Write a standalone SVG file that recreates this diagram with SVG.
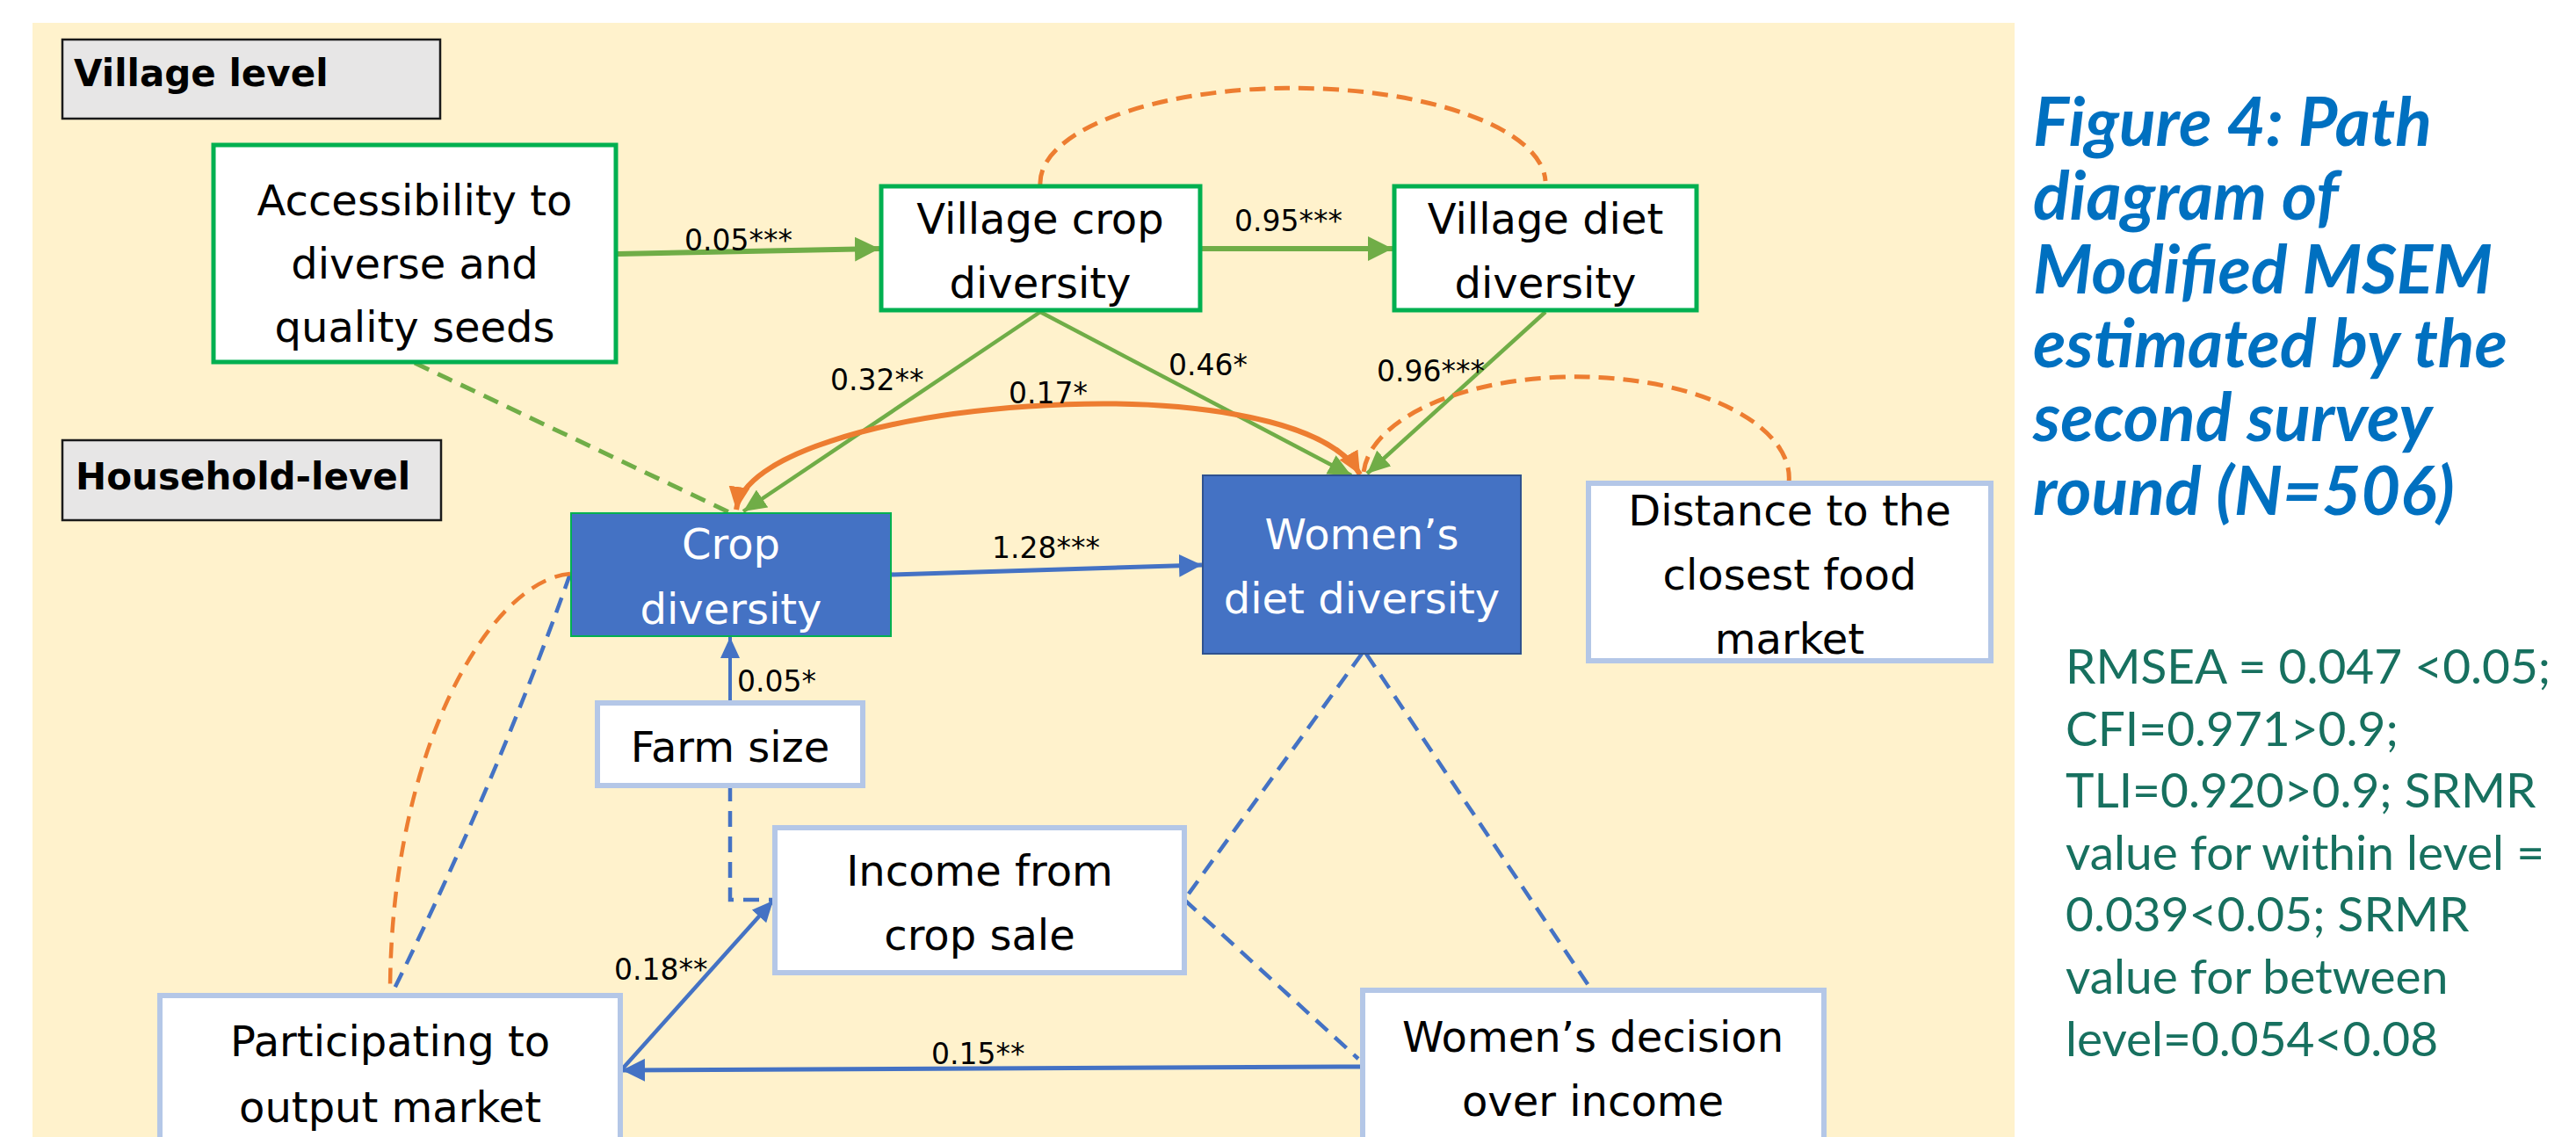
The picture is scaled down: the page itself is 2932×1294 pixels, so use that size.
<svg xmlns="http://www.w3.org/2000/svg" width="2932" height="1294" viewBox="0 0 2932 1294">
<style>
.bg{fill:#fff2cc}
.lvl{fill:#e7e6e6;stroke:#1a1a1a;stroke-width:2.5}
.lvlt{font-family:"DejaVu Sans",Verdana,sans-serif;font-weight:bold;font-size:42px;fill:#000}
.vbox{fill:#fff;stroke:#00b050;stroke-width:5}
.hbox{fill:#fff;stroke:#b4c7e7;stroke-width:6}
.nt{font-family:"DejaVu Sans",Verdana,sans-serif;font-size:48px;fill:#000;text-anchor:middle}
.nw{fill:#fff}
.lab{font-family:"DejaVu Sans",Verdana,sans-serif;font-size:33px;fill:#000}
.g{fill:none;stroke:#70ad47}
.b{fill:none;stroke:#4472c4}
.o{fill:none;stroke:#ed7d31}
.cap{font-family:Lato,"Open Sans",sans-serif;font-weight:bold;font-style:italic;font-size:77px;fill:#0070c0}
.st{font-family:Lato,"Open Sans",sans-serif;font-size:55px;fill:#17705f}
</style>
<defs>
<marker id="ga" markerUnits="userSpaceOnUse" markerWidth="30" markerHeight="28" refX="28" refY="14" orient="auto"><path d="M0,0 L28,14 L0,28 z" fill="#70ad47"/></marker>
<marker id="gs" markerUnits="userSpaceOnUse" markerWidth="28" markerHeight="24" refX="26" refY="12" orient="auto"><path d="M0,0 L26,12 L0,24 z" fill="#70ad47"/></marker>
<marker id="ba" markerUnits="userSpaceOnUse" markerWidth="28" markerHeight="26" refX="26" refY="13" orient="auto"><path d="M0,0 L26,13 L0,26 z" fill="#4472c4"/></marker>
<marker id="bs" markerUnits="userSpaceOnUse" markerWidth="26" markerHeight="22" refX="24" refY="11" orient="auto"><path d="M0,0 L24,11 L0,22 z" fill="#4472c4"/></marker>
<marker id="oa" markerUnits="userSpaceOnUse" markerWidth="28" markerHeight="24" refX="26" refY="12" orient="auto-start-reverse"><path d="M0,0 L26,12 L0,24 z" fill="#ed7d31"/></marker>
</defs>
<rect x="0" y="0" width="2932" height="1294" fill="#fff"/>
<rect class="bg" x="37" y="26" width="2256" height="1280"/>

<g id="village-level">
<rect class="lvl" x="71" y="45" width="430" height="90"/>
<text class="lvlt" x="84" y="98">Village level</text>
</g>
<g id="household-level">
<rect class="lvl" x="71" y="501" width="431" height="91"/>
<text class="lvlt" x="86" y="557">Household-level</text>
</g>

<g id="connectors">
<path class="g" stroke-width="6" d="M703,289 L1001,283" marker-end="url(#ga)"/>
<path class="g" stroke-width="6" d="M1368,283 L1585,283" marker-end="url(#ga)"/>
<path class="g" stroke-width="4.5" d="M1184,355 L846,582" marker-end="url(#gs)"/>
<path class="g" stroke-width="4.5" d="M1184,355 L1538,541" marker-end="url(#gs)"/>
<path class="g" stroke-width="4.5" d="M1759,355 L1556,539" marker-end="url(#gs)"/>
<path class="g" stroke-width="5" stroke-dasharray="18 11" d="M472,413 L830,583"/>
<path class="o" stroke-width="6" d="M838,580 C855,455 1470,405 1548,540" marker-start="url(#oa)" marker-end="url(#oa)"/>
<path class="o" stroke-width="5" stroke-dasharray="18 10" d="M1184,211 A287,108 0 0 1 1759,206"/>
<path class="o" stroke-width="5" stroke-dasharray="18 10" d="M2036,550 A242,115 0 0 0 1552,538"/>
<path class="b" stroke-width="5" d="M1014,654 L1368,643" marker-end="url(#ba)"/>
<path class="b" stroke-width="4" d="M831,800 L831,725" marker-end="url(#bs)"/>
<path class="b" stroke-width="4.5" stroke-dasharray="18 11" d="M831,894 L831,1024 L881,1024"/>
<path class="b" stroke-width="4.5" d="M707,1218 L880,1025" marker-end="url(#bs)"/>
<path class="b" stroke-width="5" d="M1550,1214 L708,1218" marker-end="url(#ba)"/>
<path class="b" stroke-width="4.5" stroke-dasharray="18 11" d="M1550,744 L1348,1024"/>
<path class="b" stroke-width="4.5" stroke-dasharray="18 11" d="M1348,1024 L1546,1205"/>
<path class="b" stroke-width="4.5" stroke-dasharray="18 11" d="M1555,744 L1811,1126"/>
<path class="b" stroke-width="4.5" stroke-dasharray="18 11" d="M649,653 Q565,890 446,1131"/>
<path class="o" stroke-width="4.5" stroke-dasharray="18 11" d="M649,653 C560,660 444,850 444,1131"/>
<text class="lab" x="779" y="285">0.05***</text>
<text class="lab" x="1405" y="263">0.95***</text>
<text class="lab" x="945" y="444">0.32**</text>
<text class="lab" x="1330" y="427">0.46*</text>
<text class="lab" x="1567" y="434">0.96***</text>
<text class="lab" x="1148" y="459">0.17*</text>
<text class="lab" x="1129" y="635">1.28***</text>
<text class="lab" x="839" y="787">0.05*</text>
<text class="lab" x="699" y="1115">0.18**</text>
<text class="lab" x="1060" y="1211">0.15**</text>
</g>

<g id="accessibility">
<rect class="vbox" x="243" y="165" width="458" height="247"/>
<text class="nt" x="472" y="245">Accessibility to</text>
<text class="nt" x="472" y="317">diverse and</text>
<text class="nt" x="472" y="389">quality seeds</text>
</g>
<g id="village-crop">
<rect class="vbox" x="1003" y="212" width="363" height="141"/>
<text class="nt" x="1184" y="266">Village crop</text>
<text class="nt" x="1184" y="339">diversity</text>
</g>
<g id="village-diet">
<rect class="vbox" x="1587" y="212" width="344" height="141"/>
<text class="nt" x="1759" y="266">Village diet</text>
<text class="nt" x="1759" y="339">diversity</text>
</g>
<g id="crop-diversity">
<rect x="650" y="584" width="364" height="140" fill="#4472c4" stroke="#00b050" stroke-width="2"/>
<text class="nt nw" x="832" y="636">Crop</text>
<text class="nt nw" x="832" y="710">diversity</text>
</g>
<g id="women-diet">
<rect x="1369" y="541" width="362" height="203" fill="#4472c4" stroke="#2f528f" stroke-width="2"/>
<text class="nt nw" x="1550" y="625">Women’s</text>
<text class="nt nw" x="1550" y="698">diet diversity</text>
</g>
<g id="distance">
<rect class="hbox" x="1808" y="550" width="458" height="202"/>
<text class="nt" x="2037" y="598">Distance to the</text>
<text class="nt" x="2037" y="671">closest food</text>
<text class="nt" x="2037" y="744">market</text>
</g>
<g id="farm-size">
<rect class="hbox" x="680" y="800" width="302" height="94"/>
<text class="nt" x="831" y="867">Farm size</text>
</g>
<g id="income">
<rect class="hbox" x="882" y="942" width="466" height="165"/>
<text class="nt" x="1115" y="1008">Income from</text>
<text class="nt" x="1115" y="1081">crop sale</text>
</g>
<g id="participating">
<rect class="hbox" x="182" y="1133" width="524" height="180"/>
<text class="nt" x="444" y="1202">Participating to</text>
<text class="nt" x="444" y="1277">output market</text>
</g>
<g id="women-decision">
<rect class="hbox" x="1551" y="1127" width="525" height="186"/>
<text class="nt" x="1813" y="1197">Women’s decision</text>
<text class="nt" x="1813" y="1270">over income</text>
</g>

<g id="caption">
<text class="cap" x="2314" y="166">Figure 4: Path</text>
<text class="cap" x="2314" y="250">diagram of</text>
<text class="cap" x="2314" y="334">Modified MSEM</text>
<text class="cap" x="2314" y="418">estimated by the</text>
<text class="cap" x="2314" y="502">second survey</text>
<text class="cap" x="2314" y="586">round (N=506)</text>
</g>
<g id="fit-stats">
<text class="st" x="2351" y="778">RMSEA = 0.047 &lt;0.05;</text>
<text class="st" x="2351" y="849">CFI=0.971&gt;0.9;</text>
<text class="st" x="2351" y="919">TLI=0.920&gt;0.9; SRMR</text>
<text class="st" x="2351" y="990">value for within level =</text>
<text class="st" x="2351" y="1060">0.039&lt;0.05; SRMR</text>
<text class="st" x="2351" y="1131">value for between</text>
<text class="st" x="2351" y="1202">level=0.054&lt;0.08</text>
</g>
</svg>
